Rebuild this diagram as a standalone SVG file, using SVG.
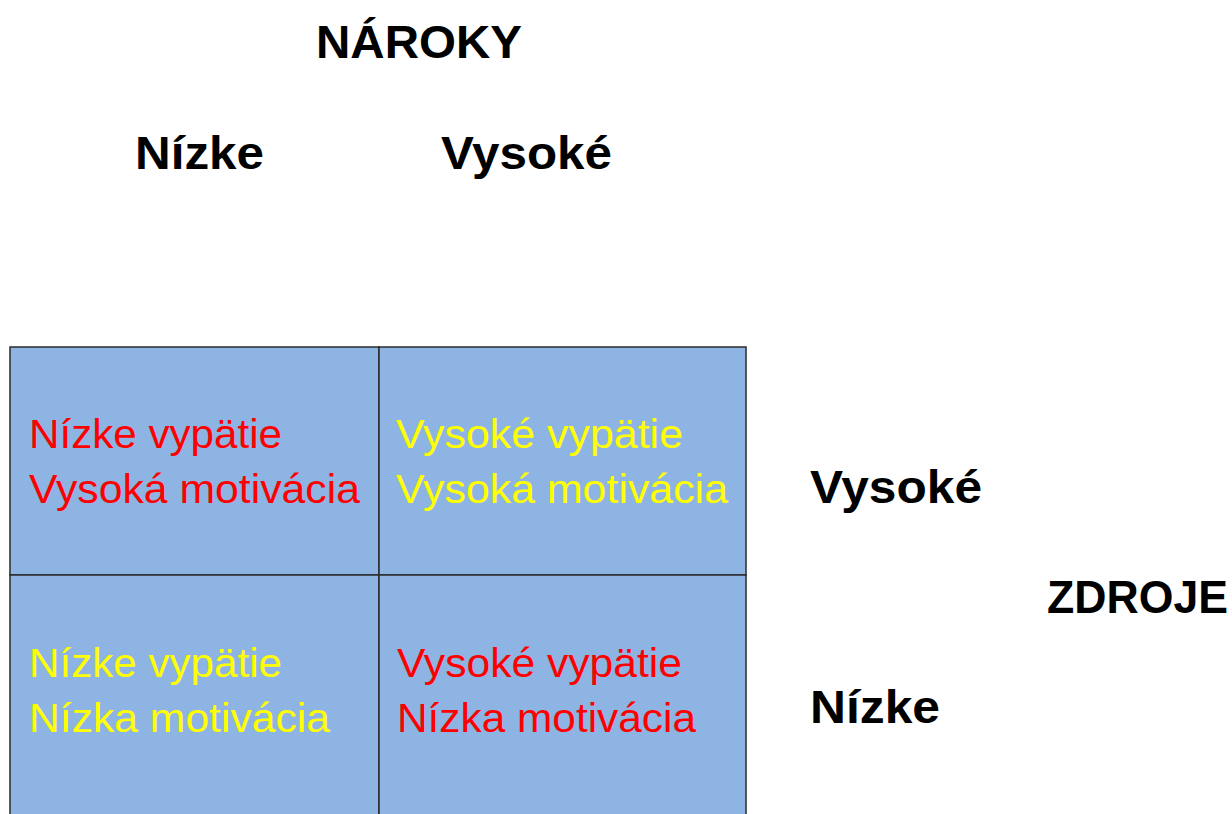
<svg xmlns="http://www.w3.org/2000/svg" width="1232" height="814" viewBox="0 0 1232 814">
<style>
.h{font-family:"Liberation Sans",Arial,sans-serif;font-weight:bold;font-size:46px;fill:#000}
.t{font-family:"Liberation Sans",Arial,sans-serif;font-size:41px}
.r{fill:#FF0000}
.y{fill:#FFFF00}
.cell{fill:#8EB4E3;stroke:#2B2B2B;stroke-width:1.5}
</style>
<rect width="1232" height="814" fill="#fff"/>
<g id="headings">
<text class="h" x="316" y="58" textLength="206" lengthAdjust="spacingAndGlyphs">NÁROKY</text>
<text class="h" x="135" y="169" textLength="129" lengthAdjust="spacingAndGlyphs">Nízke</text>
<text class="h" x="441" y="169" textLength="171" lengthAdjust="spacingAndGlyphs">Vysoké</text>
<text class="h" x="810" y="503" textLength="172" lengthAdjust="spacingAndGlyphs">Vysoké</text>
<text class="h" x="1047" y="613" textLength="181" lengthAdjust="spacingAndGlyphs">ZDROJE</text>
<text class="h" x="810" y="723" textLength="130" lengthAdjust="spacingAndGlyphs">Nízke</text>
</g>
<g id="cell-tl">
<rect class="cell" x="10" y="347" width="369" height="228"/>
<text class="t r" x="29" y="448" textLength="253" lengthAdjust="spacingAndGlyphs">Nízke vypätie</text>
<text class="t r" x="29" y="503" textLength="331" lengthAdjust="spacingAndGlyphs">Vysoká motivácia</text>
</g>
<g id="cell-tr">
<rect class="cell" x="379" y="347" width="367" height="228"/>
<text class="t y" x="396" y="448" textLength="287" lengthAdjust="spacingAndGlyphs">Vysoké vypätie</text>
<text class="t y" x="396" y="503" textLength="332" lengthAdjust="spacingAndGlyphs">Vysoká motivácia</text>
</g>
<g id="cell-bl">
<rect class="cell" x="10" y="575" width="369" height="260"/>
<text class="t y" x="29" y="677" textLength="253" lengthAdjust="spacingAndGlyphs">Nízke vypätie</text>
<text class="t y" x="29" y="732" textLength="301" lengthAdjust="spacingAndGlyphs">Nízka motivácia</text>
</g>
<g id="cell-br">
<rect class="cell" x="379" y="575" width="367" height="260"/>
<text class="t r" x="397" y="677" textLength="285" lengthAdjust="spacingAndGlyphs">Vysoké vypätie</text>
<text class="t r" x="397" y="732" textLength="299" lengthAdjust="spacingAndGlyphs">Nízka motivácia</text>
</g>
<g id="connectors"></g>
</svg>
